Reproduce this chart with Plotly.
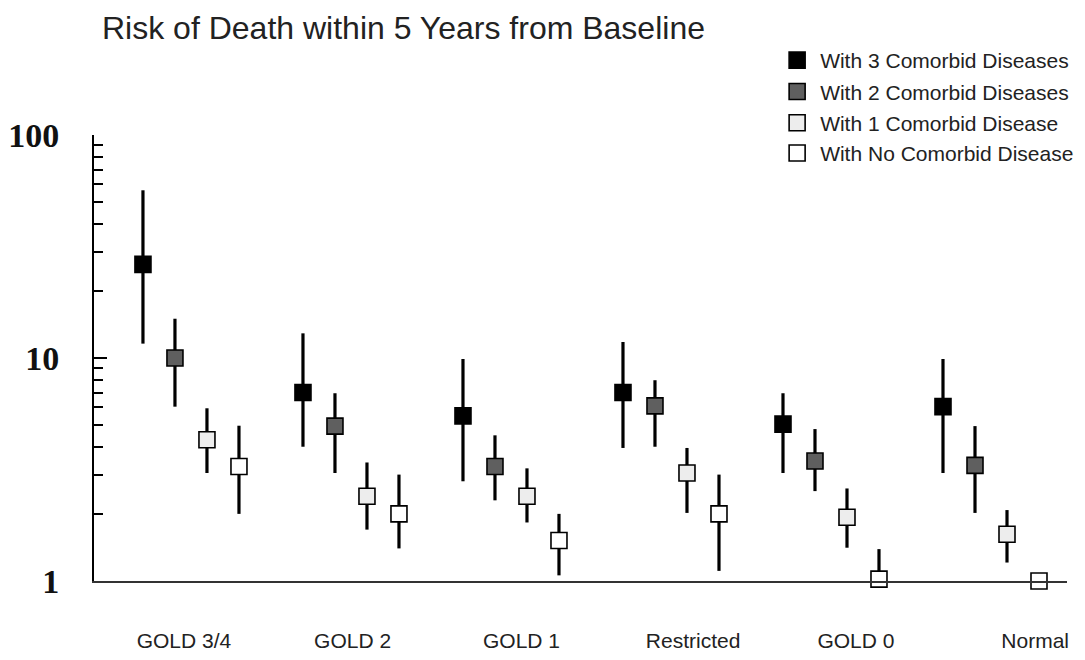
import plotly.graph_objects as go

categories = ["GOLD 3/4", "GOLD 2", "GOLD 1", "Restricted", "GOLD 0", "Normal"]
series_names = ["With 3 Comorbid Diseases", "With 2 Comorbid Diseases",
                "With 1 Comorbid Disease", "With No Comorbid Disease"]

risk3 = [26.3, 7.0, 5.5, 7.0, 5.05, 6.05]
lo3 = [11.6, 4.0, 2.8, 3.95, 3.05, 3.05]
hi3 = [56.5, 12.9, 9.9, 11.8, 6.95, 9.9]

risk2 = [10.0, 4.95, 3.26, 6.1, 3.45, 3.3]
lo2 = [6.05, 3.05, 2.3, 4.0, 2.53, 2.02]
hi2 = [15.0, 6.95, 4.5, 7.95, 4.8, 4.95]

risk1 = [4.3, 2.4, 2.4, 3.05, 1.93, 1.62]
lo1 = [3.05, 1.7, 1.83, 2.02, 1.41, 1.21]
hi1 = [5.95, 3.4, 3.2, 3.95, 2.6, 2.08]

risk0 = [3.26, 2.0, 1.52, 2.0, 1.02, 1.0]
lo0 = [2.0, 1.4, 1.06, 1.11, 0.93, 1.0]
hi0 = [4.97, 3.0, 2.0, 3.0, 1.39, 1.0]

y_ticks = [1, 10, 100]
y_ticktext = ["1", "10", "100"]

# layout constants
GROUP_STEP = 5
label_offsets = [1.28, 1.55, 1.83, 2.19, 2.28, 2.88]
fills = ["#000000", "#5f5f5f", "#ededed", "#ffffff"]
groups = ["a", "b", "c", "c"]

series = [(risk3, lo3, hi3), (risk2, lo2, hi2), (risk1, lo1, hi1), (risk0, lo0, hi0)]

fig = go.Figure()
for j, (vals, lo, hi) in enumerate(series):
    xs = [i * GROUP_STEP + j for i in range(len(categories))]
    fig.add_trace(go.Scatter(
        x=xs, y=vals, mode="markers", name=series_names[j],
        legendgroup=groups[j],
        cliponaxis=False,
        marker=dict(symbol="square", size=16, color=fills[j],
                    line=dict(color="black", width=1.6)),
        error_y=dict(type="data", symmetric=False,
                     array=[h - v for h, v in zip(hi, vals)],
                     arrayminus=[v - l for v, l in zip(vals, lo)],
                     color="black", thickness=3.2, width=0),
    ))

minor_vals = [m * d for d in (1, 10) for m in range(2, 10)]

fig.update_layout(
    width=1085, height=660,
    margin=dict(l=94, r=18, t=135, b=79, autoexpand=False),
    paper_bgcolor="white", plot_bgcolor="white",
    showlegend=True,
    legend=dict(x=0.699, xanchor="left", y=1.213, yanchor="top",
                font=dict(family="Liberation Sans, Arial", size=21, color="#222"),
                itemwidth=36, tracegroupgap=1, bgcolor="rgba(0,0,0,0)",
                itemclick=False),
    title=dict(text="Risk of Death within 5 Years from Baseline",
               font=dict(family="Liberation Sans, Arial", size=32, color="#222"),
               x=102 / 1085, xanchor="left", xref="container",
               y=1 - 28 / 660, yanchor="middle", yref="container"),
    xaxis=dict(range=[-1.53, 28.875], showgrid=False, zeroline=False,
               showline=True, linecolor="#333", linewidth=2,
               tickmode="array",
               tickvals=[i * GROUP_STEP + off for i, off in enumerate(label_offsets)],
               ticktext=categories, ticks="",
               ticklabelstandoff=40,
               tickfont=dict(family="Liberation Sans, Arial", size=21, color="#222")),
    yaxis=dict(type="log", range=[0, 2], showgrid=False, zeroline=False,
               showline=True, linecolor="black", linewidth=2,
               tickmode="array", tickvals=y_ticks,
               ticktext=["<b>%s</b>" % t for t in y_ticktext],
               ticks="inside", ticklen=13, tickwidth=2, tickcolor="black",
               ticklabelstandoff=26,
               tickfont=dict(family="Liberation Serif, Times New Roman", size=34, color="#111"),
               minor=dict(tickmode="array", tickvals=minor_vals, ticks="inside",
                          ticklen=9, tickwidth=2, tickcolor="black")),
)

fig.write_html("out.html")
